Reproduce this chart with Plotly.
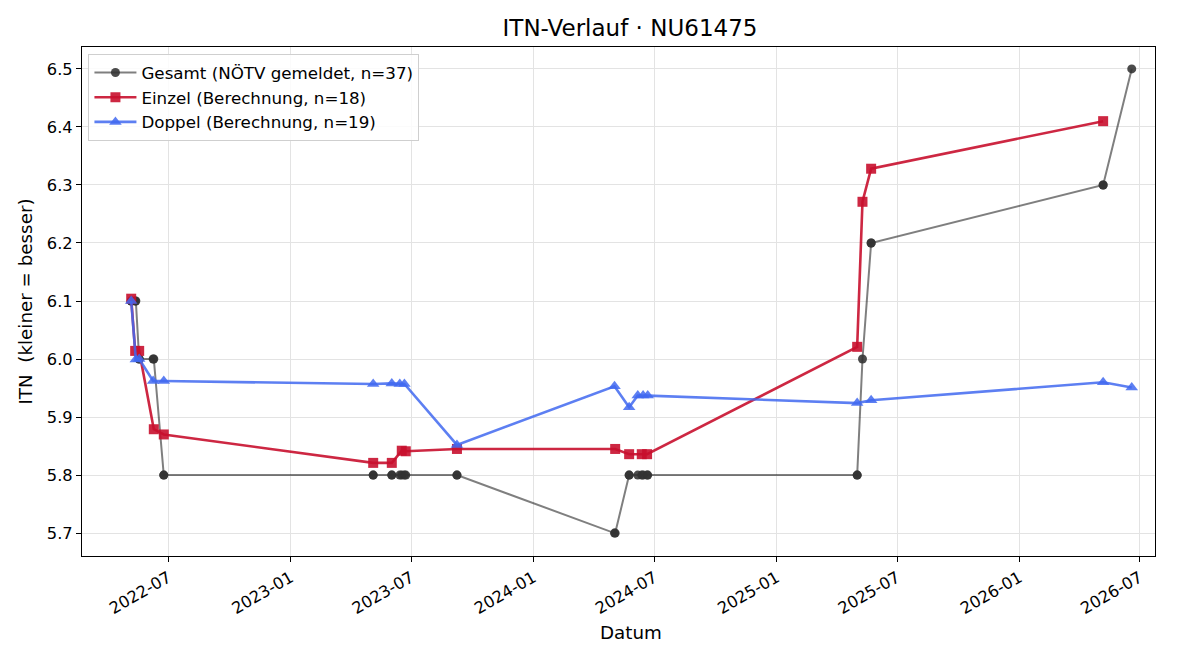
import plotly.graph_objects as go

# ---- data ----
gesamt_dates = [
    "2022-05-06", "2022-05-06", "2022-05-12", "2022-05-13", "2022-05-18", "2022-05-18",
    "2022-06-08", "2022-06-09", "2022-06-24", "2022-06-24",
    "2023-05-05", "2023-05-05", "2023-06-02", "2023-06-02", "2023-06-14", "2023-06-17",
    "2023-06-21", "2023-06-23", "2023-09-08", "2023-09-08",
    "2024-05-02", "2024-05-03", "2024-05-24", "2024-05-24", "2024-06-06", "2024-06-12",
    "2024-06-14", "2024-06-20", "2024-06-21",
    "2025-05-02", "2025-05-02", "2025-05-10", "2025-05-23", "2025-05-23",
    "2026-05-07", "2026-05-07", "2026-06-19",
]
gesamt_itn = [
    6.1, 6.1, 6.1, 6.1, 6.0, 6.0,
    6.0, 6.0, 5.8, 5.8,
    5.8, 5.8, 5.8, 5.8, 5.8, 5.8,
    5.8, 5.8, 5.8, 5.8,
    5.7, 5.7, 5.8, 5.8, 5.8, 5.8,
    5.8, 5.8, 5.8,
    5.8, 5.8, 6.0, 6.2, 6.2,
    6.3, 6.3, 6.5,
]

einzel_dates = [
    "2022-05-06", "2022-05-12", "2022-05-18", "2022-06-09", "2022-06-24",
    "2023-05-05", "2023-06-02", "2023-06-17", "2023-06-23", "2023-09-08",
    "2024-05-03", "2024-05-24", "2024-06-12", "2024-06-20",
    "2025-05-02", "2025-05-10", "2025-05-23",
    "2026-05-07",
]
einzel_itn = [
    6.104, 6.014, 6.014, 5.879, 5.870,
    5.821, 5.821, 5.842, 5.841, 5.845,
    5.845, 5.836, 5.836, 5.836,
    6.021, 6.271, 6.328,
    6.410,
]

doppel_dates = [
    "2022-05-06", "2022-05-13", "2022-05-18", "2022-06-08", "2022-06-24",
    "2023-05-05", "2023-06-02", "2023-06-14", "2023-06-21", "2023-09-08",
    "2024-05-02", "2024-05-24", "2024-06-06", "2024-06-14", "2024-06-21",
    "2025-05-02", "2025-05-23",
    "2026-05-07", "2026-06-19",
]
doppel_itn = [
    6.100, 5.999, 6.000, 5.962, 5.962,
    5.957, 5.958, 5.957, 5.957, 5.852,
    5.953, 5.917, 5.937, 5.937, 5.937,
    5.924, 5.929,
    5.960, 5.951,
]

names = [
    "Gesamt (NÖTV gemeldet, n=37)",
    "Einzel (Berechnung, n=18)",
    "Doppel (Berechnung, n=19)",
]

FONT = "DejaVu Sans"

fig = go.Figure()
fig.add_trace(go.Scatter(
    x=gesamt_dates, y=gesamt_itn, mode="lines+markers", name=names[0],
    line=dict(color="rgba(0,0,0,0.5)", width=2),
    marker=dict(symbol="circle", size=9, color="rgba(50,50,50,0.88)",
                line=dict(width=0)),
))
fig.add_trace(go.Scatter(
    x=einzel_dates, y=einzel_itn, mode="lines+markers", name=names[1],
    line=dict(color="rgba(200,16,46,0.9)", width=2.6),
    marker=dict(symbol="square", size=10, color="rgba(200,16,46,0.9)",
                line=dict(width=0)),
))
fig.add_trace(go.Scatter(
    x=doppel_dates, y=doppel_itn, mode="lines+markers", name=names[2],
    line=dict(color="rgba(65,105,240,0.85)", width=2.6),
    marker=dict(symbol="triangle-up", size=11, color="rgba(65,105,240,0.85)",
                line=dict(width=0)),
))

axis_common = dict(
    showline=True, linecolor="black", linewidth=1, mirror=True,
    ticks="outside", ticklen=5, tickcolor="black", tickwidth=1,
    showgrid=True, gridcolor="#e3e3e3", gridwidth=1,
    zeroline=False,
    tickfont=dict(family=FONT, size=16.3, color="black"),
    title_font=dict(family=FONT, size=18.3, color="black"),
)

fig.update_layout(
    width=1200, height=660,
    paper_bgcolor="white", plot_bgcolor="white",
    margin=dict(l=82, r=45, t=47, b=104),
    title=dict(text="ITN-Verlauf · NU61475", x=0.525, xanchor="center",
               y=0.957, yanchor="middle",
               font=dict(family=FONT, size=23, color="black")),
    font=dict(family=FONT, size=16.5, color="black"),
    showlegend=True,
    legend=dict(
        x=0.006, y=0.986, xanchor="left", yanchor="top",
        bgcolor="rgba(255,255,255,0.85)", bordercolor="#cfcfcf", borderwidth=1,
        font=dict(family=FONT, size=16.7, color="black"),
        tracegroupgap=0, itemwidth=42,
    ),
    annotations=[dict(
        text="Datum", xref="paper", yref="paper", x=0.5116, y=-0.151,
        xanchor="center", yanchor="middle", showarrow=False,
        font=dict(family=FONT, size=18.3, color="black"),
    )],
)
fig.update_xaxes(
    **axis_common,
    type="date",
    range=["2022-02-21", "2026-07-24"],
    tick0="2022-07-01", dtick="M6", tickformat="%Y-%m",
    tickangle=-30,
)
fig.update_yaxes(
    **axis_common,
    range=[5.6605, 6.5378],
    tick0=5.7, dtick=0.1, tickformat=".1f",
    title=dict(text="ITN  (kleiner = besser)", standoff=9),
)

fig.write_html("out.html")
